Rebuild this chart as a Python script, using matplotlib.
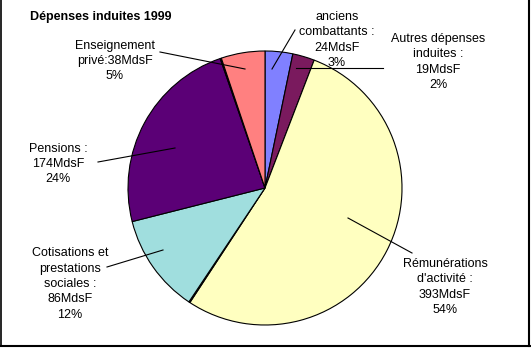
import matplotlib.pyplot as plt

plt.rcParams['font.family'] = ['Liberation Sans', 'DejaVu Sans']

# slices clockwise from 12 o'clock (two unlabelled slivers included)
values = [24, 19, 393, 1, 86, 174, 1, 38]
colors = ['#8080FF', '#7A1A5E', '#FFFFC0', '#FFFFC0', '#A0DEDE', '#5B0076', '#5B0076', '#FF8080']

labels = ["anciens\ncombattants :\n24MdsF\n3%",
          "Autres dépenses\ninduites :\n19MdsF\n2%",
          "Rémunérations\nd'activité :\n393MdsF\n54%",
          "Cotisations et\nprestations\nsociales :\n86MdsF\n12%",
          "Pensions :\n174MdsF\n24%",
          "Enseignement\nprivé:38MdsF\n5%"]

W, H = 531, 348
fig = plt.figure(figsize=(W / 100, H / 100), dpi=100)
ax = fig.add_axes([0, 0, 1, 1])

ax.pie(values, colors=colors, startangle=90, counterclock=False,
       center=(265, H - 188), radius=137,
       wedgeprops=dict(edgecolor='black', linewidth=0.8))
ax.set_xlim(0, W)
ax.set_ylim(0, H)
ax.set_aspect('auto')
ax.axis('off')

# label text positions (pixels, y from top) and leader lines
text_pos = [(337, 40), (438, 62), (445, 287), (70, 284), (58, 164), (115, 61)]
leaders = [((272, 69), (295, 30)),
           ((296, 68), (383, 68)),
           ((348, 218), (412, 253)),
           ((163, 250), (107, 267)),
           ((175, 148), (98, 162)),
           ((245, 69), (160, 52))]

for lab, (x, y) in zip(labels, text_pos):
    ax.text(x, H - y, lab, ha='center', va='center', fontsize=9,
            linespacing=1.38)
for (x0, y0), (x1, y1) in leaders:
    ax.plot([x0, x1], [H - y0, H - y1], color='black', linewidth=0.8)

ax.text(30, H - 17, 'Dépenses induites 1999', ha='left', va='center',
        fontsize=9, fontweight='bold')

# frame on left, right and bottom
ax.plot([0.5, 0.5], [H, H - 346], color='black', linewidth=1.2)
ax.plot([529, 529], [H, H - 346], color='black', linewidth=1.5)
ax.plot([0, 530], [H - 346, H - 346], color='black', linewidth=1.5)

fig.savefig('out.png', dpi=100)
